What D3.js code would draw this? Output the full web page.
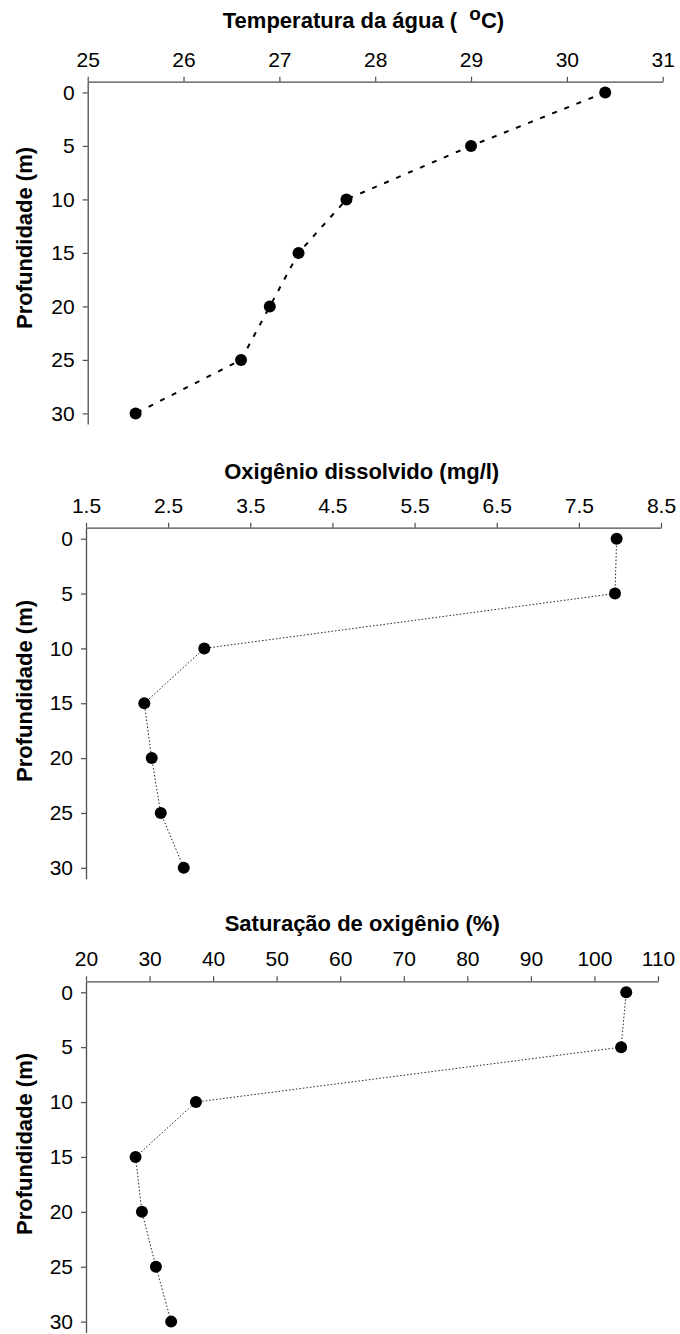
<!DOCTYPE html>
<html>
<head>
<meta charset="utf-8">
<script src="https://cdn.jsdelivr.net/npm/d3@7"></script>
<style>
  html, body { margin: 0; padding: 0; background: #fff; }
  svg { display: block; font-family: "Liberation Sans", Arial, sans-serif; }
</style>
</head>
<body>
<svg id="chart" width="680" height="1334"></svg>
<script>
// ---- Data ----
const depths = [0, 5, 10, 15, 20, 25, 30];
const temperature = [30.4, 29.0, 27.7, 27.2, 26.9, 26.6, 25.5];
const dissolvedOxygen = [7.96, 7.94, 2.94, 2.21, 2.30, 2.41, 2.69];
const oxygenSaturation = [105.0, 104.2, 37.3, 27.8, 28.8, 31.0, 33.4];

const depthTicks = [0, 5, 10, 15, 20, 25, 30];
const tempTicks = [25, 26, 27, 28, 29, 30, 31];
const oxyTicks = [1.5, 2.5, 3.5, 4.5, 5.5, 6.5, 7.5, 8.5];
const satTicks = [20, 30, 40, 50, 60, 70, 80, 90, 100, 110];

const yAxisTitle = "Profundidade (m)";

// ---- Layout ----
const svg = d3.select("#chart");

const panels = [
  { values: temperature, ticks: tempTicks, fmt: d3.format("d"),
    xDomain: [25, 31], xRange: [87.7, 662.7], yRange: [81.7, 424.1],
    titleY: 28.3, titleX: 363.5, yTitleCenter: 238,
    dash: "5,8", lineWidth: 2, lineColor: "#000", degree: true },
  { values: dissolvedOxygen, ticks: oxyTicks, fmt: d3.format(".1f"),
    xDomain: [1.5, 8.5], xRange: [86, 661], yRange: [527.7, 878.8],
    titleY: 479, titleX: 361.7, yTitleCenter: 691, title: "Oxigênio dissolvido (mg/l)",
    dash: "1.5,2", lineWidth: 1, lineColor: "#222" },
  { values: oxygenSaturation, ticks: satTicks, fmt: d3.format("d"),
    xDomain: [20, 110], xRange: [86, 658], yRange: [981.3, 1332.6],
    titleY: 931, titleX: 362.2, yTitleCenter: 1144, title: "Saturação de oxigênio (%)",
    dash: "1.5,2", lineWidth: 1, lineColor: "#222" }
];

panels.forEach(p => {
  const x = d3.scaleLinear().domain(p.xDomain).range(p.xRange);
  const y = d3.scaleLinear().domain([-1, 31]).range(p.yRange);
  const g = svg.append("g");

  // top x axis
  const xAxis = d3.axisTop(x).tickValues(p.ticks).tickFormat(p.fmt)
    .tickSizeInner(5).tickSizeOuter(0).tickPadding(10);
  const gx = g.append("g").attr("transform", `translate(0,${p.yRange[0]})`).call(xAxis);

  // left y axis
  const yAxis = d3.axisLeft(y).tickValues(depthTicks).tickFormat(d3.format("d"))
    .tickSizeInner(5).tickSizeOuter(0).tickPadding(8);
  const gy = g.append("g").attr("transform", `translate(${p.xRange[0]},0)`).call(yAxis);

  [gx, gy].forEach(a => {
    a.select(".domain").attr("stroke", "#4d4d4d").attr("stroke-width", 1.3);
    a.selectAll(".tick line").attr("stroke", "#4d4d4d").attr("stroke-width", 1.2);
    a.selectAll(".tick text").attr("fill", "#000").style("font-size", "21px")
      .style("font-family", '"Liberation Sans", Arial, sans-serif');
  });

  // title
  const t = g.append("text")
    .attr("x", p.titleX).attr("y", p.titleY)
    .attr("text-anchor", "middle")
    .style("font-size", "22px").style("font-weight", "bold").attr("fill", "#000");
  if (p.degree) {
    t.append("tspan").text("Temperatura da água (\u00a0\u00a0");
    t.append("tspan").attr("dy", -8).style("font-size", "19px").text("o");
    t.append("tspan").attr("dy", 8).text("C)");
  } else {
    t.text(p.title);
  }

  // y axis title
  g.append("text")
    .attr("transform", `translate(32,${p.yTitleCenter}) rotate(-90)`)
    .attr("text-anchor", "middle")
    .style("font-size", "22px").style("font-weight", "bold").attr("fill", "#000")
    .text(yAxisTitle);

  const pts = depths.map((d, i) => ({ depth: d, v: p.values[i] }));

  // line
  const line = d3.line().x(d => x(d.v)).y(d => y(d.depth));
  g.append("path").datum(pts)
    .attr("d", line)
    .attr("fill", "none")
    .attr("stroke", p.lineColor)
    .attr("stroke-width", p.lineWidth)
    .attr("stroke-dasharray", p.dash);

  // markers
  g.selectAll("circle.pt").data(pts).join("circle")
    .attr("class", "pt")
    .attr("cx", d => x(d.v)).attr("cy", d => y(d.depth))
    .attr("r", 6).attr("fill", "#000");
});
</script>
</body>
</html>
